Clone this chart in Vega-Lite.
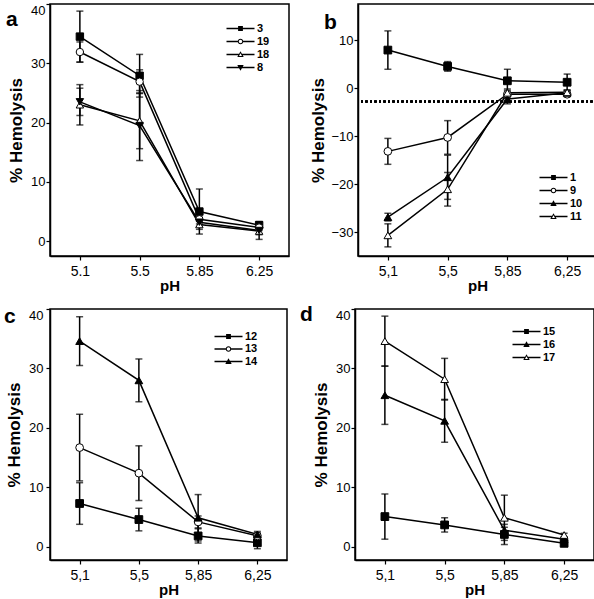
{
 "$schema": "https://vega.github.io/schema/vega-lite/v6.json",
 "background": "white",
 "padding": {"left": 3, "top": 2, "right": 3, "bottom": 0},
 "config": {
  "font": "Liberation Sans",
  "view": {"stroke": "black", "strokeWidth": 1.5},
  "axis": {"domainColor": "black", "domainWidth": 1.5, "tickColor": "black", "tickWidth": 1.2, "tickSize": 4, "labelColor": "black", "labelFontSize": 13, "labelFont": "Liberation Sans", "labelPadding": 1, "titleColor": "black", "titleFont": "Liberation Sans", "titleFontWeight": "bold", "grid": false},
  "axisX": {"titleFontSize": 15, "titlePadding": 0, "labelFontSize": 14, "labelPadding": 4},
  "axisY": {"titleFontSize": 17, "titlePadding": 5, "labelFlush": true, "minExtent": 20, "maxExtent": 20},
  "legend": {"title": null, "orient": "none", "symbolSize": 64, "symbolStrokeWidth": 0, "symbolFillColor": "black", "symbolOpacity": 1, "labelFontSize": 11, "labelFontWeight": "bold", "labelColor": "black", "labelOffset": 11, "rowPadding": 1, "padding": 0},
  "title": {"anchor": "start", "frame": "group", "fontSize": 21, "fontWeight": "bold", "font": "Liberation Sans", "color": "black", "offset": 0}
 },
 "datasets": {
  "hemo": [
   {"panel": "a", "series": "3", "pH": "5.1", "mean": 34.5, "err": 4.3},
   {"panel": "a", "series": "3", "pH": "5.5", "mean": 27.9, "err": 3.6},
   {"panel": "a", "series": "3", "pH": "5.85", "mean": 5.0, "err": 3.8},
   {"panel": "a", "series": "3", "pH": "6.25", "mean": 2.7, "err": 0.6},
   {"panel": "a", "series": "19", "pH": "5.1", "mean": 31.9, "err": 1.7},
   {"panel": "a", "series": "19", "pH": "5.5", "mean": 26.9, "err": 2.0},
   {"panel": "a", "series": "19", "pH": "5.85", "mean": 3.7, "err": 0.8},
   {"panel": "a", "series": "19", "pH": "6.25", "mean": 2.3, "err": 0.5},
   {"panel": "a", "series": "18", "pH": "5.1", "mean": 23.0, "err": 3.4},
   {"panel": "a", "series": "18", "pH": "5.5", "mean": 20.3, "err": 4.7},
   {"panel": "a", "series": "18", "pH": "5.85", "mean": 2.8, "err": 0.8},
   {"panel": "a", "series": "18", "pH": "6.25", "mean": 1.7, "err": 0.6},
   {"panel": "a", "series": "8", "pH": "5.1", "mean": 23.5, "err": 2.3},
   {"panel": "a", "series": "8", "pH": "5.5", "mean": 19.5, "err": 5.9},
   {"panel": "a", "series": "8", "pH": "5.85", "mean": 3.2, "err": 0.7},
   {"panel": "a", "series": "8", "pH": "6.25", "mean": 1.8, "err": 1.5},
   {"panel": "b", "series": "1", "pH": "5.1", "mean": 7.9, "err": 4.0},
   {"panel": "b", "series": "1", "pH": "5.5", "mean": 4.5, "err": 1.0},
   {"panel": "b", "series": "1", "pH": "5.85", "mean": 1.5, "err": 2.4},
   {"panel": "b", "series": "1", "pH": "6.25", "mean": 1.2, "err": 1.7},
   {"panel": "b", "series": "9", "pH": "5.1", "mean": -13.2, "err": 2.7},
   {"panel": "b", "series": "9", "pH": "5.5", "mean": -10.3, "err": 3.5},
   {"panel": "b", "series": "9", "pH": "5.85", "mean": -1.3, "err": 0.8},
   {"panel": "b", "series": "9", "pH": "6.25", "mean": -1.3, "err": 0.5},
   {"panel": "b", "series": "10", "pH": "5.1", "mean": -26.9, "err": 0.8},
   {"panel": "b", "series": "10", "pH": "5.5", "mean": -18.6, "err": 4.6},
   {"panel": "b", "series": "10", "pH": "5.85", "mean": -2.3, "err": 1.0},
   {"panel": "b", "series": "10", "pH": "6.25", "mean": -1.0, "err": 0.5},
   {"panel": "b", "series": "11", "pH": "5.1", "mean": -30.7, "err": 2.4},
   {"panel": "b", "series": "11", "pH": "5.5", "mean": -21.1, "err": 3.5},
   {"panel": "b", "series": "11", "pH": "5.85", "mean": -1.0, "err": 0.8},
   {"panel": "b", "series": "11", "pH": "6.25", "mean": -0.9, "err": 0.5},
   {"panel": "c", "series": "12", "pH": "5.1", "mean": 7.3, "err": 3.5},
   {"panel": "c", "series": "12", "pH": "5.5", "mean": 4.6, "err": 1.9},
   {"panel": "c", "series": "12", "pH": "5.85", "mean": 1.85, "err": 1.2},
   {"panel": "c", "series": "12", "pH": "6.25", "mean": 0.7, "err": 1.0},
   {"panel": "c", "series": "13", "pH": "5.1", "mean": 16.7, "err": 5.6},
   {"panel": "c", "series": "13", "pH": "5.5", "mean": 12.4, "err": 4.6},
   {"panel": "c", "series": "13", "pH": "5.85", "mean": 4.2, "err": 1.0},
   {"panel": "c", "series": "13", "pH": "6.25", "mean": 1.85, "err": 0.5},
   {"panel": "c", "series": "14", "pH": "5.1", "mean": 34.6, "err": 4.1},
   {"panel": "c", "series": "14", "pH": "5.5", "mean": 28.0, "err": 3.6},
   {"panel": "c", "series": "14", "pH": "5.85", "mean": 4.9, "err": 3.9},
   {"panel": "c", "series": "14", "pH": "6.25", "mean": 2.1, "err": 0.5},
   {"panel": "d", "series": "15", "pH": "5.1", "mean": 5.1, "err": 3.8},
   {"panel": "d", "series": "15", "pH": "5.5", "mean": 3.7, "err": 1.2},
   {"panel": "d", "series": "15", "pH": "5.85", "mean": 2.1, "err": 1.7},
   {"panel": "d", "series": "15", "pH": "6.25", "mean": 0.6, "err": 0.3},
   {"panel": "d", "series": "16", "pH": "5.1", "mean": 25.5, "err": 4.9},
   {"panel": "d", "series": "16", "pH": "5.5", "mean": 21.2, "err": 3.6},
   {"panel": "d", "series": "16", "pH": "5.85", "mean": 2.8, "err": 0.5},
   {"panel": "d", "series": "16", "pH": "6.25", "mean": 1.3, "err": 0.3},
   {"panel": "d", "series": "17", "pH": "5.1", "mean": 34.6, "err": 4.2},
   {"panel": "d", "series": "17", "pH": "5.5", "mean": 28.2, "err": 3.5},
   {"panel": "d", "series": "17", "pH": "5.85", "mean": 4.9, "err": 3.8},
   {"panel": "d", "series": "17", "pH": "6.25", "mean": 2.0, "err": 0.3}
  ]
 },
 "spacing": 9,
 "resolve": {"scale": {"shape": "independent", "fill": "independent"}},
 "vconcat": [
  {
   "spacing": 18,
   "resolve": {"scale": {"shape": "independent", "fill": "independent"}},
   "hconcat": [
    {
     "width": 239, "height": 252,
     "data": {"name": "hemo"},
     "transform": [{"filter": "datum.panel === 'a'"}],
     "title": {"text": "a", "dx": -44, "dy": 31},
     "layer": [
      {"mark": {"type": "errorbar", "color": "black", "ticks": {"size": 7, "thickness": 1.5, "color": "black"}, "rule": {"strokeWidth": 1.5, "color": "black"}},
       "encoding": {
        "x": {"field": "pH", "type": "ordinal", "sort": ["5.1", "5.5", "5.85", "6.25"], "scale": {"type": "point", "padding": 0.5}, "axis": {"title": "pH", "labelAngle": 0}},
        "y": {"field": "mean", "type": "quantitative", "scale": {"domain": [-2.5, 40], "nice": false, "zero": false}, "axis": {"title": "% Hemolysis", "values": [0, 5, 10, 15, 20, 25, 30, 35, 40]}},
        "yError": {"field": "err"}}},
      {"mark": {"type": "line", "color": "black", "strokeWidth": 1.5},
       "encoding": {
        "x": {"field": "pH", "type": "ordinal", "sort": ["5.1", "5.5", "5.85", "6.25"], "scale": {"type": "point", "padding": 0.5}, "axis": {"title": "pH", "labelAngle": 0}},
        "y": {"field": "mean", "type": "quantitative", "scale": {"domain": [-2.5, 40], "nice": false, "zero": false}, "axis": {"title": "% Hemolysis", "values": [0, 5, 10, 15, 20, 25, 30, 35, 40]}},
        "detail": {"field": "series"}}},
      {"mark": {"type": "point", "size": 55, "filled": true, "stroke": "black", "strokeWidth": 1, "opacity": 1},
       "encoding": {
        "x": {"field": "pH", "type": "ordinal", "sort": ["5.1", "5.5", "5.85", "6.25"], "scale": {"type": "point", "padding": 0.5}},
        "y": {"field": "mean", "type": "quantitative", "scale": {"domain": [-2.5, 40], "nice": false, "zero": false}},
        "shape": {"field": "series", "type": "nominal", "scale": {"domain": ["3", "19", "18", "8"], "range": ["square", "circle", "triangle-up", "triangle-down"]}, "legend": null},
        "fill": {"field": "series", "type": "nominal", "scale": {"domain": ["3", "19", "18", "8"], "range": ["black", "white", "white", "black"]}, "legend": null}}},
      {"mark": {"type": "point", "size": 64, "filled": true, "fill": "black", "opacity": 0},
       "encoding": {
        "x": {"field": "pH", "type": "ordinal", "sort": ["5.1", "5.5", "5.85", "6.25"], "scale": {"type": "point", "padding": 0.5}},
        "y": {"field": "mean", "type": "quantitative", "scale": {"domain": [-2.5, 40], "nice": false, "zero": false}},
        "shape": {"field": "series", "type": "nominal", "scale": {"domain": ["3", "19", "18", "8"], "range": [
          "M-3.5,-0.17H3.5V0.17H-3.5ZM-0.6,-0.6H0.6V0.6H-0.6Z",
          "M-3.5,-0.17H-0.62V0.17H-3.5ZM0.62,-0.17H3.5V0.17H0.62ZM-0.7,0A0.7,0.7 0 1,1 0.7,0A0.7,0.7 0 1,1 -0.7,0ZM-0.42,0A0.42,0.42 0 1,0 0.42,0A0.42,0.42 0 1,0 -0.42,0Z",
          "M-3.5,-0.17H-0.4V0.17H-3.5ZM0.4,-0.17H3.5V0.17H0.4ZM0,-0.8L0.8,0.6L-0.8,0.6ZM0,-0.3L-0.37,0.35L0.37,0.35Z",
          "M-3.5,-0.17H3.5V0.17H-3.5ZM0,0.8L-0.8,-0.6L0.8,-0.6Z"]},
         "legend": {"legendX": 185, "legendY": 19}}}}
     ],
     "resolve": {"scale": {"shape": "independent", "fill": "independent"}}
    },
    {
     "width": 239, "height": 252,
     "data": {"name": "hemo"},
     "transform": [{"filter": "datum.panel === 'b'"}],
     "title": {"text": "b", "dx": -34, "dy": 33},
     "layer": [
      {"mark": {"type": "rule", "color": "black", "strokeWidth": 1.5, "strokeDash": [2, 2.5]},
       "encoding": {"y": {"datum": -2.8, "type": "quantitative", "scale": {"domain": [-35, 17.5], "nice": false, "zero": false}}}},
      {"mark": {"type": "errorbar", "color": "black", "ticks": {"size": 7, "thickness": 1.5, "color": "black"}, "rule": {"strokeWidth": 1.5, "color": "black"}},
       "encoding": {
        "x": {"field": "pH", "type": "ordinal", "sort": ["5.1", "5.5", "5.85", "6.25"], "scale": {"type": "point", "padding": 0.5}, "axis": {"title": "pH", "labelAngle": 0, "labelExpr": "replace(datum.label, '.', ',')"}},
        "y": {"field": "mean", "type": "quantitative", "scale": {"domain": [-35, 17.5], "nice": false, "zero": false}, "axis": {"title": "% Hemolysis", "minExtent": 26, "maxExtent": 26, "values": [-30, -20, -10, 0, 10]}},
        "yError": {"field": "err"}}},
      {"mark": {"type": "line", "color": "black", "strokeWidth": 1.5},
       "encoding": {
        "x": {"field": "pH", "type": "ordinal", "sort": ["5.1", "5.5", "5.85", "6.25"], "scale": {"type": "point", "padding": 0.5}, "axis": {"title": "pH", "labelAngle": 0, "labelExpr": "replace(datum.label, '.', ',')"}},
        "y": {"field": "mean", "type": "quantitative", "scale": {"domain": [-35, 17.5], "nice": false, "zero": false}, "axis": {"title": "% Hemolysis", "minExtent": 26, "maxExtent": 26, "values": [-30, -20, -10, 0, 10]}},
        "detail": {"field": "series"}}},
      {"mark": {"type": "point", "size": 60, "filled": true, "stroke": "black", "strokeWidth": 1, "opacity": 1},
       "encoding": {
        "x": {"field": "pH", "type": "ordinal", "sort": ["5.1", "5.5", "5.85", "6.25"], "scale": {"type": "point", "padding": 0.5}},
        "y": {"field": "mean", "type": "quantitative", "scale": {"domain": [-35, 17.5], "nice": false, "zero": false}},
        "shape": {"field": "series", "type": "nominal", "scale": {"domain": ["1", "9", "10", "11"], "range": ["square", "circle", "triangle-up", "triangle-up"]}, "legend": null},
        "fill": {"field": "series", "type": "nominal", "scale": {"domain": ["1", "9", "10", "11"], "range": ["black", "white", "black", "white"]}, "legend": null}}},
      {"mark": {"type": "point", "size": 64, "filled": true, "fill": "black", "opacity": 0},
       "encoding": {
        "x": {"field": "pH", "type": "ordinal", "sort": ["5.1", "5.5", "5.85", "6.25"], "scale": {"type": "point", "padding": 0.5}},
        "y": {"field": "mean", "type": "quantitative", "scale": {"domain": [-35, 17.5], "nice": false, "zero": false}},
        "shape": {"field": "series", "type": "nominal", "scale": {"domain": ["1", "9", "10", "11"], "range": [
          "M-3.5,-0.17H3.5V0.17H-3.5ZM-0.6,-0.6H0.6V0.6H-0.6Z",
          "M-3.5,-0.17H-0.62V0.17H-3.5ZM0.62,-0.17H3.5V0.17H0.62ZM-0.7,0A0.7,0.7 0 1,1 0.7,0A0.7,0.7 0 1,1 -0.7,0ZM-0.42,0A0.42,0.42 0 1,0 0.42,0A0.42,0.42 0 1,0 -0.42,0Z",
          "M-3.5,-0.17H3.5V0.17H-3.5ZM0,-0.8L0.8,0.6L-0.8,0.6Z",
          "M-3.5,-0.17H-0.4V0.17H-3.5ZM0.4,-0.17H3.5V0.17H0.4ZM0,-0.8L0.8,0.6L-0.8,0.6ZM0,-0.3L-0.37,0.35L0.37,0.35Z"]},
         "legend": {"legendX": 190, "legendY": 168}}}}
     ],
     "resolve": {"scale": {"shape": "independent", "fill": "independent"}}
    }
   ]
  },
  {
   "spacing": 11,
   "resolve": {"scale": {"shape": "independent", "fill": "independent"}},
   "hconcat": [
    {
     "width": 237, "height": 251,
     "data": {"name": "hemo"},
     "transform": [{"filter": "datum.panel === 'c'"}],
     "title": {"text": "c", "dx": -46, "dy": 23},
     "layer": [
      {"mark": {"type": "errorbar", "color": "black", "ticks": {"size": 7, "thickness": 1.5, "color": "black"}, "rule": {"strokeWidth": 1.5, "color": "black"}},
       "encoding": {
        "x": {"field": "pH", "type": "ordinal", "sort": ["5.1", "5.5", "5.85", "6.25"], "scale": {"type": "point", "padding": 0.5}, "axis": {"title": "pH", "labelAngle": 0, "labelExpr": "replace(datum.label, '.', ',')"}},
        "y": {"field": "mean", "type": "quantitative", "scale": {"domain": [-2.2, 40], "nice": false, "zero": false}, "axis": {"title": "% Hemolysis", "labelPadding": 3, "minExtent": 22, "maxExtent": 22, "values": [0, 5, 10, 15, 20, 25, 30, 35, 40]}},
        "yError": {"field": "err"}}},
      {"mark": {"type": "line", "color": "black", "strokeWidth": 1.5},
       "encoding": {
        "x": {"field": "pH", "type": "ordinal", "sort": ["5.1", "5.5", "5.85", "6.25"], "scale": {"type": "point", "padding": 0.5}, "axis": {"title": "pH", "labelAngle": 0, "labelExpr": "replace(datum.label, '.', ',')"}},
        "y": {"field": "mean", "type": "quantitative", "scale": {"domain": [-2.2, 40], "nice": false, "zero": false}, "axis": {"title": "% Hemolysis", "labelPadding": 3, "minExtent": 22, "maxExtent": 22, "values": [0, 5, 10, 15, 20, 25, 30, 35, 40]}},
        "detail": {"field": "series"}}},
      {"mark": {"type": "point", "size": 60, "filled": true, "stroke": "black", "strokeWidth": 1, "opacity": 1},
       "encoding": {
        "x": {"field": "pH", "type": "ordinal", "sort": ["5.1", "5.5", "5.85", "6.25"], "scale": {"type": "point", "padding": 0.5}},
        "y": {"field": "mean", "type": "quantitative", "scale": {"domain": [-2.2, 40], "nice": false, "zero": false}},
        "shape": {"field": "series", "type": "nominal", "scale": {"domain": ["12", "13", "14"], "range": ["square", "circle", "triangle-up"]}, "legend": null},
        "fill": {"field": "series", "type": "nominal", "scale": {"domain": ["12", "13", "14"], "range": ["black", "white", "black"]}, "legend": null}}},
      {"mark": {"type": "point", "size": 64, "filled": true, "fill": "black", "opacity": 0},
       "encoding": {
        "x": {"field": "pH", "type": "ordinal", "sort": ["5.1", "5.5", "5.85", "6.25"], "scale": {"type": "point", "padding": 0.5}},
        "y": {"field": "mean", "type": "quantitative", "scale": {"domain": [-2.2, 40], "nice": false, "zero": false}},
        "shape": {"field": "series", "type": "nominal", "scale": {"domain": ["12", "13", "14"], "range": [
          "M-3.5,-0.17H3.5V0.17H-3.5ZM-0.6,-0.6H0.6V0.6H-0.6Z",
          "M-3.5,-0.17H-0.62V0.17H-3.5ZM0.62,-0.17H3.5V0.17H0.62ZM-0.7,0A0.7,0.7 0 1,1 0.7,0A0.7,0.7 0 1,1 -0.7,0ZM-0.42,0A0.42,0.42 0 1,0 0.42,0A0.42,0.42 0 1,0 -0.42,0Z",
          "M-3.5,-0.17H3.5V0.17H-3.5ZM0,-0.8L0.8,0.6L-0.8,0.6Z"]},
         "legend": {"legendX": 173, "legendY": 22, "rowPadding": 0.5}}}}
     ],
     "resolve": {"scale": {"shape": "independent", "fill": "independent"}}
    },
    {
     "width": 239, "height": 251,
     "data": {"name": "hemo"},
     "transform": [{"filter": "datum.panel === 'd'"}],
     "title": {"text": "d", "dx": -55, "dy": 21},
     "layer": [
      {"mark": {"type": "errorbar", "color": "black", "ticks": {"size": 7, "thickness": 1.5, "color": "black"}, "rule": {"strokeWidth": 1.5, "color": "black"}},
       "encoding": {
        "x": {"field": "pH", "type": "ordinal", "sort": ["5.1", "5.5", "5.85", "6.25"], "scale": {"type": "point", "padding": 0.5}, "axis": {"title": "pH", "labelAngle": 0, "labelExpr": "replace(datum.label, '.', ',')"}},
        "y": {"field": "mean", "type": "quantitative", "scale": {"domain": [-2.2, 40], "nice": false, "zero": false}, "axis": {"title": "% Hemolysis", "values": [0, 5, 10, 15, 20, 25, 30, 35, 40]}},
        "yError": {"field": "err"}}},
      {"mark": {"type": "line", "color": "black", "strokeWidth": 1.5},
       "encoding": {
        "x": {"field": "pH", "type": "ordinal", "sort": ["5.1", "5.5", "5.85", "6.25"], "scale": {"type": "point", "padding": 0.5}, "axis": {"title": "pH", "labelAngle": 0, "labelExpr": "replace(datum.label, '.', ',')"}},
        "y": {"field": "mean", "type": "quantitative", "scale": {"domain": [-2.2, 40], "nice": false, "zero": false}, "axis": {"title": "% Hemolysis", "values": [0, 5, 10, 15, 20, 25, 30, 35, 40]}},
        "detail": {"field": "series"}}},
      {"mark": {"type": "point", "size": 60, "filled": true, "stroke": "black", "strokeWidth": 1, "opacity": 1},
       "encoding": {
        "x": {"field": "pH", "type": "ordinal", "sort": ["5.1", "5.5", "5.85", "6.25"], "scale": {"type": "point", "padding": 0.5}},
        "y": {"field": "mean", "type": "quantitative", "scale": {"domain": [-2.2, 40], "nice": false, "zero": false}},
        "shape": {"field": "series", "type": "nominal", "scale": {"domain": ["15", "16", "17"], "range": ["square", "triangle-up", "triangle-up"]}, "legend": null},
        "fill": {"field": "series", "type": "nominal", "scale": {"domain": ["15", "16", "17"], "range": ["black", "black", "white"]}, "legend": null}}},
      {"mark": {"type": "point", "size": 64, "filled": true, "fill": "black", "opacity": 0},
       "encoding": {
        "x": {"field": "pH", "type": "ordinal", "sort": ["5.1", "5.5", "5.85", "6.25"], "scale": {"type": "point", "padding": 0.5}},
        "y": {"field": "mean", "type": "quantitative", "scale": {"domain": [-2.2, 40], "nice": false, "zero": false}},
        "shape": {"field": "series", "type": "nominal", "scale": {"domain": ["15", "16", "17"], "range": [
          "M-3.5,-0.17H3.5V0.17H-3.5ZM-0.6,-0.6H0.6V0.6H-0.6Z",
          "M-3.5,-0.17H3.5V0.17H-3.5ZM0,-0.8L0.8,0.6L-0.8,0.6Z",
          "M-3.5,-0.17H-0.4V0.17H-3.5ZM0.4,-0.17H3.5V0.17H0.4ZM0,-0.8L0.8,0.6L-0.8,0.6ZM0,-0.3L-0.37,0.35L0.37,0.35Z"]},
         "legend": {"legendX": 166, "legendY": 17}}}}
     ],
     "resolve": {"scale": {"shape": "independent", "fill": "independent"}}
    }
   ]
  }
 ]
}
